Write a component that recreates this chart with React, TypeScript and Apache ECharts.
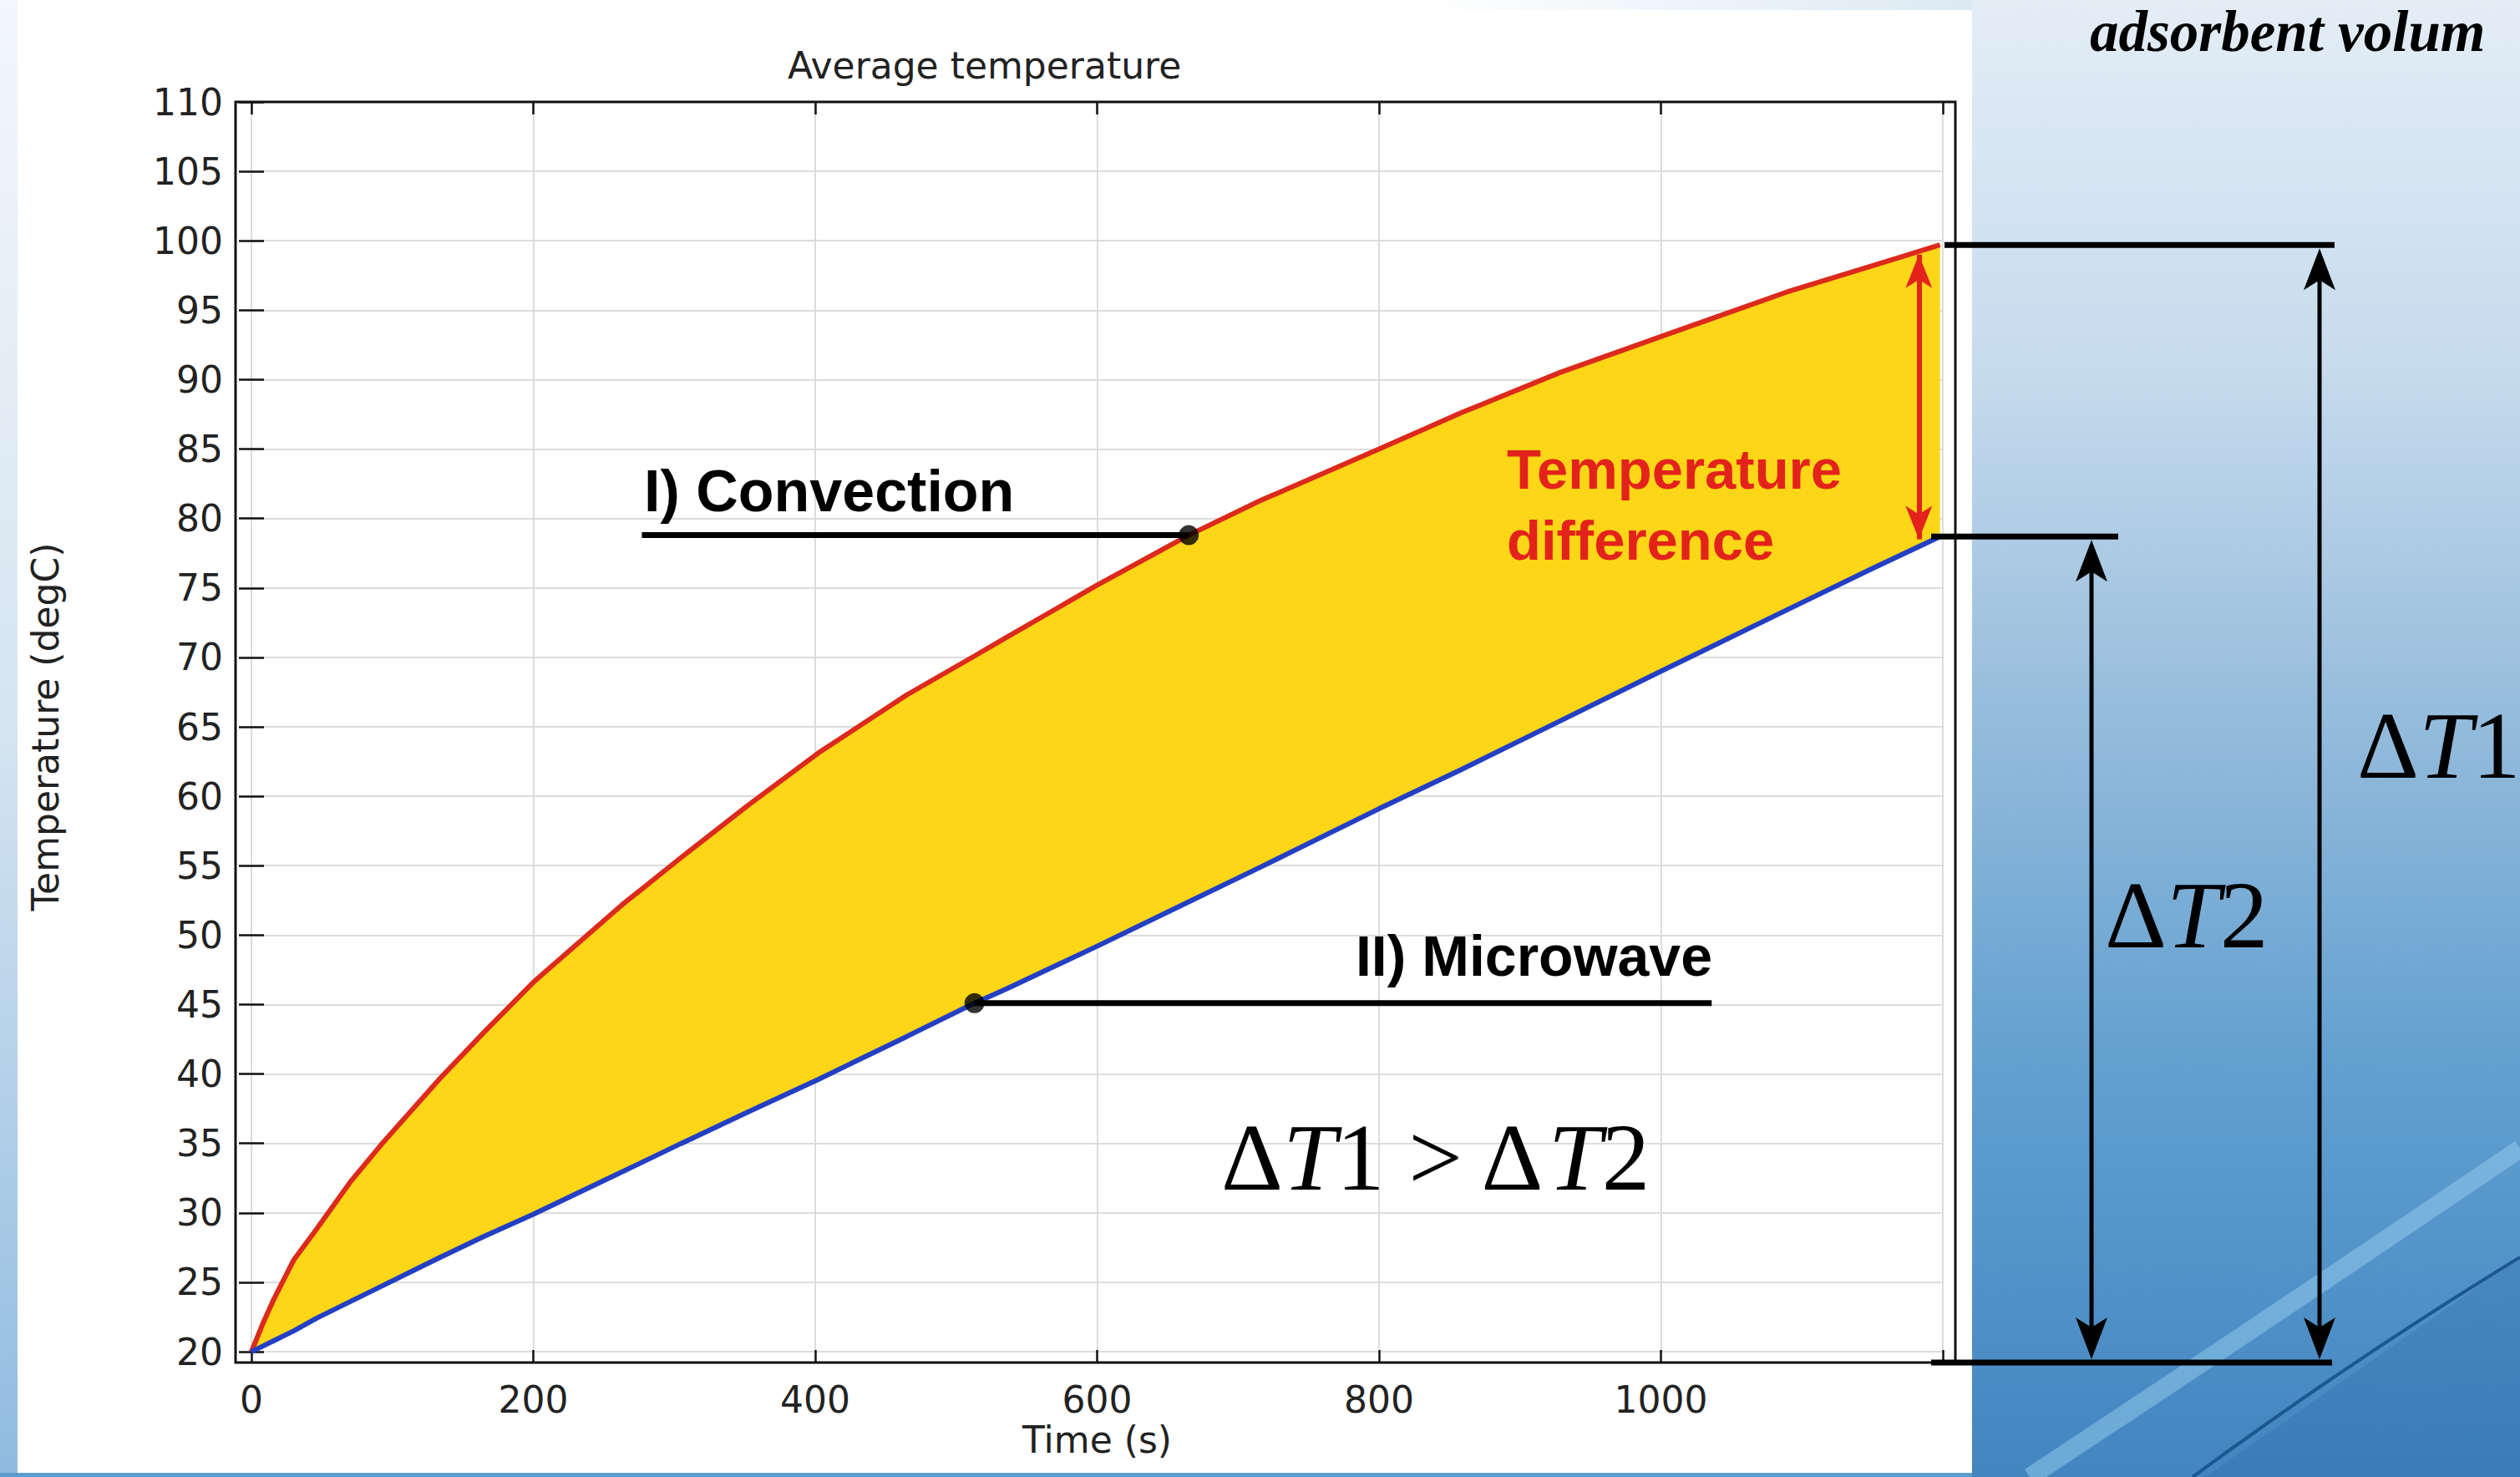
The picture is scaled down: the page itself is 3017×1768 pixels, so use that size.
import React, { useEffect, useRef } from 'react';
import * as echarts from 'echarts';

// ---- data ----
const timeS = [0, 8, 16, 30, 46, 70, 92, 134, 165, 200, 262, 305, 353, 402, 465, 513, 535, 600, 665, 716, 800, 858, 928, 1000, 1089, 1150, 1198];
const convection = [20, 22.0, 23.8, 26.6, 28.8, 32.2, 34.9, 39.7, 43.0, 46.6, 52.1, 55.6, 59.4, 63.1, 67.3, 70.1, 71.4, 75.2, 78.8, 81.3, 85.0, 87.6, 90.5, 93.1, 96.3, 98.2, 99.7];
const microwave = [20, 20.4, 20.8, 21.5, 22.4, 23.6, 24.7, 26.8, 28.3, 29.9, 32.9, 35.0, 37.3, 39.6, 42.7, 45.1, 46.1, 49.2, 52.4, 54.9, 59.1, 61.9, 65.4, 69.0, 73.4, 76.4, 78.7];

const xRange = [0, 1200];
const xStep = 200;
const yRange = [20, 110];
const yStep = 5;
const hiddenXLabels = [1200];

const convectionLeader = { fromTime: 277, toTime: 665, value: 78.8 };
const microwaveLeader = { fromTime: 513, toTime: 1036, value: 45.1 };
const diffArrow = { time: 1183, top: 99.0, bottom: 78.5 };

const TXT = '#222222';
const RED = '#dc2a1c';
const BLUE = '#2340c4';
const YELLOW = '#fdd617';
const ANN_RED = '#e3231b';

export default function App() {
  const ref = useRef<HTMLDivElement>(null);

  useEffect(() => {
    const el = ref.current!;
    const chart = echarts.init(el, null, { renderer: 'svg' });

    const red = timeS.map((t, i) => [t, convection[i]]);
    const blue = timeS.map((t, i) => [t, microwave[i]]);

    const tickFont = { fontFamily: 'DejaVu Sans', fontSize: 44, color: TXT };

    chart.setOption({
      animation: false,
      title: {
        text: 'Average temperature',
        left: 943,
        top: 56,
        padding: 0,
        textStyle: { fontFamily: 'DejaVu Sans', fontSize: 44, fontWeight: 'normal', color: TXT },
      },
      grid: { left: 301, top: 122, width: 2025, height: 1496, containLabel: false },
      xAxis: [
        {
          type: 'value',
          min: xRange[0],
          max: xRange[1],
          interval: xStep,
          position: 'bottom',
          offset: 13,
          axisLine: { show: false },
          axisTick: { show: true, inside: true, length: 15, lineStyle: { color: '#111', width: 2.5 } },
          axisLabel: {
            ...tickFont,
            margin: 22,
            formatter: (v: number) => (hiddenXLabels.includes(v) ? '' : String(v)),
          },
          splitLine: { show: true, lineStyle: { color: '#dcdcdc', width: 2 } },
          name: 'Time (s)',
          nameLocation: 'middle',
          nameGap: 66,
          nameTextStyle: { ...tickFont },
        },
        {
          type: 'value',
          min: xRange[0],
          max: xRange[1],
          interval: xStep,
          position: 'top',
          offset: 0,
          axisLine: { show: false },
          axisTick: { show: true, inside: true, length: 15, lineStyle: { color: '#111', width: 2.5 } },
          axisLabel: { show: false },
          splitLine: { show: false },
        },
      ],
      yAxis: [
        {
          type: 'value',
          min: yRange[0],
          max: yRange[1],
          interval: yStep,
          position: 'left',
          offset: 19,
          axisLine: { show: false },
          axisTick: { show: true, inside: true, length: 15, lineStyle: { color: '#111', width: 2.5 } },
          axisLabel: { ...tickFont, margin: 15 },
          splitLine: { show: true, lineStyle: { color: '#dcdcdc', width: 2 } },
          name: 'Temperature (degC)',
          nameLocation: 'middle',
          nameGap: 206,
          nameTextStyle: { ...tickFont },
        },
        {
          type: 'value',
          min: yRange[0],
          max: yRange[1],
          interval: yStep,
          position: 'right',
          offset: 15,
          axisLine: { show: false },
          axisTick: { show: true, inside: true, length: 15, lineStyle: { color: '#111', width: 2.5 } },
          axisLabel: { show: false },
          splitLine: { show: false },
        },
      ],
      series: [
        {
          name: 'Temperature difference',
          type: 'custom',
          data: [[timeS[0], microwave[0]]],
          silent: true,
          z: 2,
          renderItem: (params: any, api: any) => {
            const upper = timeS.map((t, i) => api.coord([t, convection[i]]));
            const lower = timeS.map((t, i) => api.coord([t, microwave[i]])).reverse();
            return {
              type: 'polygon',
              shape: { points: upper.concat(lower) },
              style: { fill: YELLOW, stroke: 'none' },
            };
          },
        },
        {
          name: 'I) Convection',
          type: 'line',
          data: red,
          symbol: 'none',
          lineStyle: { color: RED, width: 6 },
          z: 4,
          markLine: {
            silent: true,
            symbol: ['arrow', 'arrow'],
            symbolSize: [24, 40],
            label: { show: false },
            lineStyle: { color: ANN_RED, width: 6, type: 'solid' },
            data: [[{ coord: [diffArrow.time, diffArrow.top] }, { coord: [diffArrow.time, diffArrow.bottom] }]],
          },
        },
        {
          name: 'II) Microwave',
          type: 'line',
          data: blue,
          symbol: 'none',
          lineStyle: { color: BLUE, width: 6 },
          z: 4,
        },
        {
          name: 'convection leader',
          type: 'line',
          data: [
            [convectionLeader.fromTime, convectionLeader.value],
            [convectionLeader.toTime, convectionLeader.value],
          ],
          symbol: 'none',
          silent: true,
          lineStyle: { color: '#000', width: 7 },
          z: 5,
        },
        {
          name: 'microwave leader',
          type: 'line',
          data: [
            [microwaveLeader.fromTime, microwaveLeader.value],
            [microwaveLeader.toTime, microwaveLeader.value],
          ],
          symbol: 'none',
          silent: true,
          lineStyle: { color: '#000', width: 7 },
          z: 5,
        },
        {
          name: 'markers',
          type: 'scatter',
          data: [
            [convectionLeader.toTime, convectionLeader.value],
            [microwaveLeader.fromTime, microwaveLeader.value],
          ],
          symbolSize: 24,
          itemStyle: { color: '#000' },
          silent: true,
          z: 6,
        },
      ],
    });

    const px = (t: number, v: number) =>
      chart.convertToPixel({ xAxisIndex: 0, yAxisIndex: 0 }, [t, v]) as number[];
    const last = timeS.length - 1;
    const yTop = px(timeS[last], convection[last])[1];
    const yMid = px(timeS[last], microwave[last])[1];
    const yBot = px(0, yRange[0])[1] + 13;
    const leftPx = px(xRange[0], yRange[0])[0] - 19;
    const rightPx = px(xRange[1], yRange[0])[0] + 15;
    const topPx = px(xRange[0], yRange[1])[1];

    const upHead = (x: number, y: number) => ({
      type: 'polygon',
      z: 60,
      shape: { points: [[x, y], [x - 19, y + 50], [x, y + 38], [x + 19, y + 50]] },
      style: { fill: '#000' },
    });
    const downHead = (x: number, y: number) => ({
      type: 'polygon',
      z: 60,
      shape: { points: [[x, y], [x - 19, y - 50], [x, y - 38], [x + 19, y - 50]] },
      style: { fill: '#000' },
    });
    const hbar = (x1: number, x2: number, y: number) => ({
      type: 'rect',
      z: 60,
      shape: { x: x1, y: y - 3.5, width: x2 - x1, height: 7 },
      style: { fill: '#000' },
    });
    const vbar = (x: number, y1: number, y2: number) => ({
      type: 'rect',
      z: 59,
      shape: { x: x - 2.5, y: y1, width: 5, height: y2 - y1 },
      style: { fill: '#000' },
    });
    const serif = 'Liberation Serif';
    const mathRich = {
      n: { fontFamily: serif, fontSize: 115, fill: '#000' },
      i: { fontFamily: serif, fontSize: 115, fontStyle: 'italic', fill: '#000' },
    };

    chart.setOption({
      graphic: {
        elements: [
          // page background pieces
          {
            type: 'rect',
            z: -10,
            silent: true,
            shape: { x: 2361, y: 0, width: 656, height: 1768 },
            style: {
              fill: new echarts.graphic.LinearGradient(0, 0, 0, 1, [
                { offset: 0, color: '#e3edf6' },
                { offset: 0.25, color: '#c6dbed' },
                { offset: 0.5, color: '#92badb' },
                { offset: 0.72, color: '#62a0d0' },
                { offset: 1, color: '#4285c0' },
              ]),
            },
          },
          {
            type: 'rect',
            z: -10,
            silent: true,
            shape: { x: 0, y: 0, width: 21, height: 1768 },
            style: {
              fill: new echarts.graphic.LinearGradient(0, 0, 0, 1, [
                { offset: 0, color: '#f3f7fb' },
                { offset: 0.5, color: '#d4e4f1' },
                { offset: 1, color: '#8fbbe0' },
              ]),
            },
          },
          {
            type: 'rect',
            z: -10,
            silent: true,
            shape: { x: 0, y: 1763, width: 2361, height: 5 },
            style: { fill: '#5b9bd0' },
          },
          {
            type: 'rect',
            z: -10,
            silent: true,
            shape: { x: 1700, y: 0, width: 661, height: 12 },
            style: {
              fill: new echarts.graphic.LinearGradient(0, 0, 1, 0, [
                { offset: 0, color: '#ffffff' },
                { offset: 1, color: '#dce9f3' },
              ]),
            },
          },
          {
            type: 'polygon',
            z: -9,
            silent: true,
            shape: { points: [[2640, 1768], [3017, 1505], [3017, 1768]] },
            style: { fill: 'rgba(35,95,155,0.22)' },
          },
          {
            type: 'bezierCurve',
            z: -9,
            silent: true,
            shape: { x1: 2430, y1: 1768, cpx1: 2700, cpy1: 1590, x2: 3017, y2: 1375 },
            style: { stroke: 'rgba(150,205,238,0.5)', lineWidth: 22, fill: 'none' },
          },
          {
            type: 'bezierCurve',
            z: -9,
            silent: true,
            shape: { x1: 2625, y1: 1768, cpx1: 2820, cpy1: 1625, x2: 3017, y2: 1505 },
            style: { stroke: '#1c5890', lineWidth: 4, fill: 'none' },
          },
          // plot frame
          {
            type: 'rect',
            z: 40,
            silent: true,
            shape: { x: leftPx, y: topPx, width: rightPx - leftPx, height: yBot - topPx },
            style: { fill: 'none', stroke: '#111', lineWidth: 3 },
          },
          // annotation texts
          {
            type: 'text',
            z: 70,
            x: 771,
            y: 588,
            style: {
              text: 'I) Convection',
              fontFamily: 'Liberation Sans',
              fontWeight: 'bold',
              fontSize: 70,
              fill: '#000',
              align: 'left',
              verticalAlign: 'middle',
            },
          },
          {
            type: 'text',
            z: 70,
            x: 2050,
            y: 1144,
            style: {
              text: 'II) Microwave',
              fontFamily: 'Liberation Sans',
              fontWeight: 'bold',
              fontSize: 68,
              fill: '#000',
              align: 'right',
              verticalAlign: 'middle',
            },
          },
          {
            type: 'text',
            z: 70,
            x: 1804,
            y: 519,
            style: {
              text: 'Temperature\ndifference',
              fontFamily: 'Liberation Sans',
              fontWeight: 'bold',
              fontSize: 67,
              lineHeight: 85,
              fill: ANN_RED,
              align: 'left',
              verticalAlign: 'top',
            },
          },
          {
            type: 'text',
            z: 70,
            x: 1462,
            y: 1385,
            style: {
              text: '{n|Δ}{i|T}{n|1 > Δ}{i|T}{n|2}',
              rich: mathRich,
              fontFamily: serif,
              fontSize: 115,
              align: 'left',
              verticalAlign: 'middle',
            },
          },
          {
            type: 'text',
            z: 70,
            x: 2822,
            y: 892,
            style: {
              text: '{n|Δ}{i|T}{n|1}',
              rich: mathRich,
              fontFamily: serif,
              fontSize: 115,
              align: 'left',
              verticalAlign: 'middle',
            },
          },
          {
            type: 'text',
            z: 70,
            x: 2520,
            y: 1095,
            style: {
              text: '{n|Δ}{i|T}{n|2}',
              rich: mathRich,
              fontFamily: serif,
              fontSize: 115,
              align: 'left',
              verticalAlign: 'middle',
            },
          },
          {
            type: 'text',
            z: 70,
            x: 2502,
            y: 38,
            style: {
              text: 'adsorbent volum',
              fontFamily: serif,
              fontWeight: 'bold',
              fontStyle: 'italic',
              fontSize: 69,
              lineHeight: 70,
              fill: '#000',
              align: 'left',
              verticalAlign: 'middle',
            },
          },
          // dimension lines
          hbar(2328, 2795, yTop),
          hbar(2312, 2536, yMid),
          hbar(2312, 2792, yBot),
          vbar(2777, yTop + 20, yBot - 20),
          vbar(2504, yMid + 20, yBot - 20),
          upHead(2777, yTop + 4),
          downHead(2777, yBot - 4),
          upHead(2504, yMid + 4),
          downHead(2504, yBot - 4),
        ],
      },
    });

    return () => {
      chart.dispose();
    };
  }, []);

  return (
    <div
      ref={ref}
      style={{ position: 'absolute', left: 0, top: 0, width: 3017, height: 1768, background: '#ffffff' }}
    />
  );
}
